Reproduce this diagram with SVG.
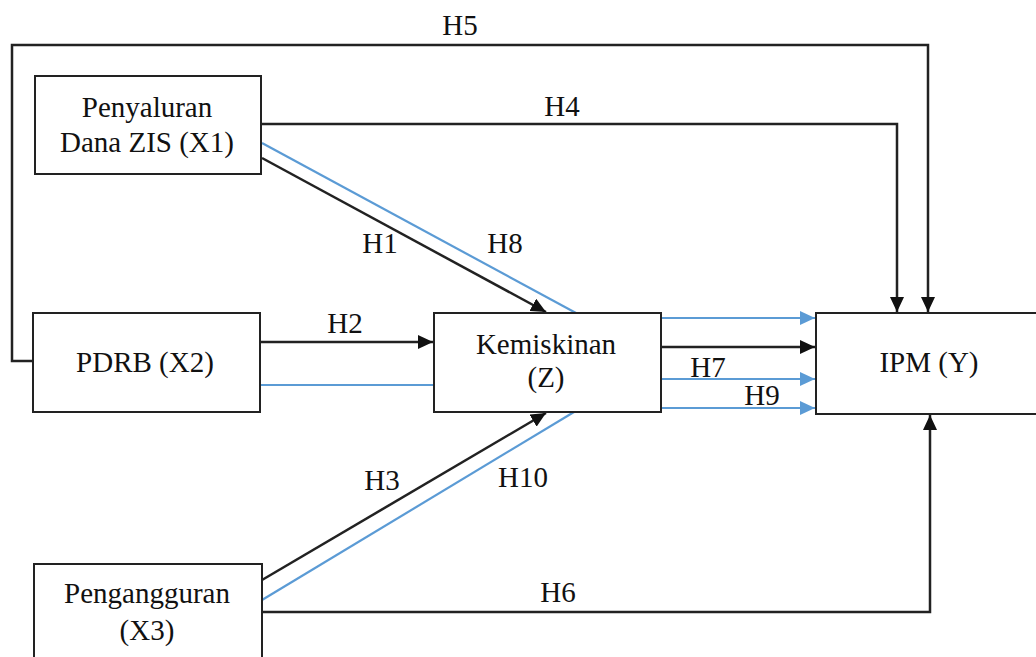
<svg xmlns="http://www.w3.org/2000/svg" width="1036" height="657" viewBox="0 0 1036 657">
<style>
.box{fill:#fff;stroke:#222;stroke-width:2}
.t{font-family:"Liberation Serif","Times New Roman",Times,serif;font-size:29px;fill:#111;text-anchor:middle}
.k{fill:none;stroke:#222;stroke-width:2.5}
.b{fill:none;stroke:#5B9BD5;stroke-width:2.2}
</style>
<defs>
<marker id="ak" markerUnits="userSpaceOnUse" markerWidth="16" markerHeight="14" refX="15" refY="7" orient="auto"><path d="M0,0 L15,7 L0,14 Z" fill="#111"/></marker>
<marker id="ab" markerUnits="userSpaceOnUse" markerWidth="16" markerHeight="14" refX="15" refY="7" orient="auto"><path d="M0,0 L15,7 L0,14 Z" fill="#5B9BD5"/></marker>
</defs>
<rect width="1036" height="657" fill="#fff"/>
<g id="connectors">
<path class="k" d="M35,361 H12 V45 H928 V312" marker-end="url(#ak)"/>
<path class="k" d="M261,124 H897 V312" marker-end="url(#ak)"/>
<path class="k" d="M262,612 H930 V415" marker-end="url(#ak)"/>
<path class="k" d="M262,158 L546,312" marker-end="url(#ak)"/>
<path class="b" d="M262,143 L576,313"/>
<path class="k" d="M260,342 H433" marker-end="url(#ak)"/>
<path class="b" d="M260,385 H437"/>
<path class="k" d="M262,580 L546,413" marker-end="url(#ak)"/>
<path class="b" d="M262,600 L574,412"/>
<path class="b" d="M661,318 H815" marker-end="url(#ab)"/>
<path class="k" d="M661,347 H815" marker-end="url(#ak)"/>
<path class="b" d="M661,379 H815" marker-end="url(#ab)"/>
<path class="b" d="M661,408 H815" marker-end="url(#ab)"/>
<text class="t" x="460" y="35">H5</text>
<text class="t" x="562" y="116">H4</text>
<text class="t" x="380" y="253">H1</text>
<text class="t" x="505" y="253">H8</text>
<text class="t" x="345" y="333">H2</text>
<text class="t" x="708" y="377">H7</text>
<text class="t" x="762" y="405">H9</text>
<text class="t" x="382" y="490">H3</text>
<text class="t" x="523" y="487">H10</text>
<text class="t" x="558" y="602">H6</text>
</g>
<g id="x1">
<rect class="box" x="35" y="76" width="226" height="98"/>
<text class="t" x="147" y="117">Penyaluran</text>
<text class="t" x="147" y="152">Dana ZIS (X1)</text>
</g>
<g id="x2">
<rect class="box" x="33" y="313" width="227" height="99"/>
<text class="t" x="145" y="372">PDRB (X2)</text>
</g>
<g id="z">
<rect class="box" x="434" y="313" width="227" height="99"/>
<text class="t" x="546" y="354">Kemiskinan</text>
<text class="t" x="546" y="387">(Z)</text>
</g>
<g id="y">
<rect class="box" x="816" y="313" width="230" height="101"/>
<text class="t" x="929" y="372">IPM (Y)</text>
</g>
<g id="x3">
<rect class="box" x="34" y="564" width="228" height="110"/>
<text class="t" x="147" y="603">Pengangguran</text>
<text class="t" x="147" y="640">(X3)</text>
</g>
</svg>
